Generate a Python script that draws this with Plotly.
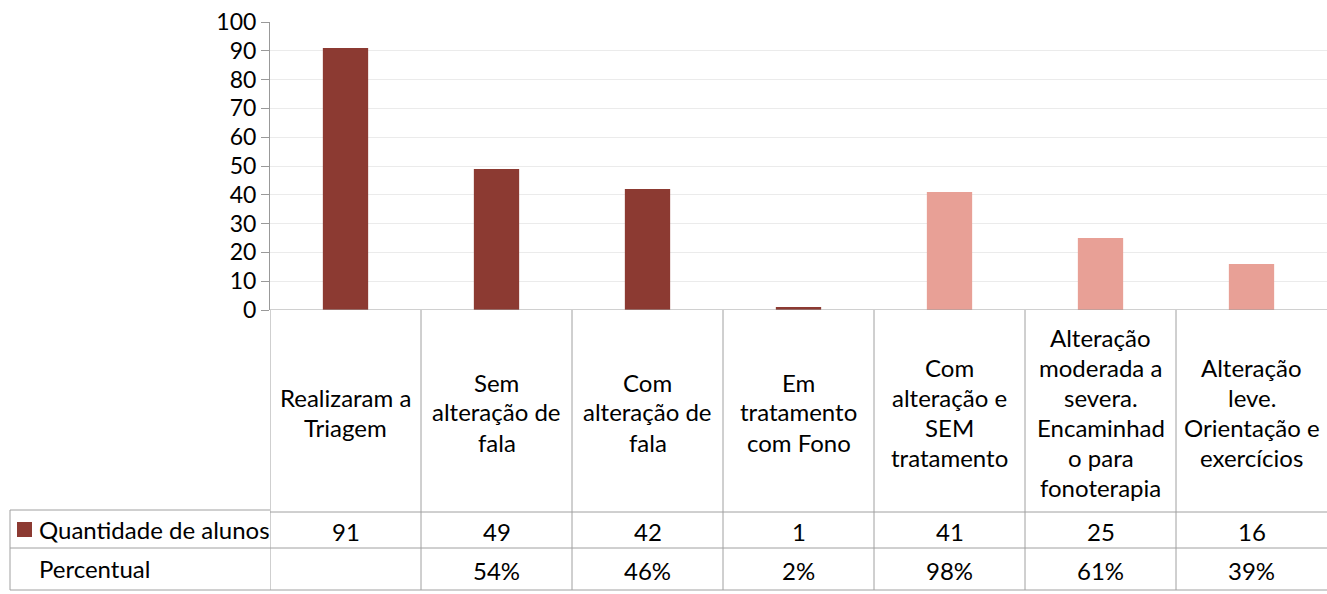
import plotly.graph_objects as go

# ---- data ----
categories = [
    "Realizaram a<br>Triagem",
    "Sem<br>alteração de<br>fala",
    "Com<br>alteração de<br>fala",
    "Em<br>tratamento<br>com Fono",
    "Com<br>alteração e<br>SEM<br>tratamento",
    "Alteração<br>moderada a<br>severa.<br>Encaminhad<br>o para<br>fonoterapia",
    "Alteração<br>leve.<br>Orientação e<br>exercícios",
]
quantidade = [91, 49, 42, 1, 41, 25, 16]
percentual = ["", "54%", "46%", "2%", "98%", "61%", "39%"]
series_name = "Quantidade de alunos"
row2_name = "Percentual"
y_ticks = list(range(0, 101, 10))

DARK = "#8C3A32"
LIGHT = "#E8A096"
bar_colors = [DARK, DARK, DARK, DARK, LIGHT, LIGHT, LIGHT]

W, H = 1327, 594
FONT = "Lato"
FS_TICK = 23
FS = 24


def py(px):
    return 1 - px / H


def pxx(px):
    return px / W


n = len(categories)
idx = list(range(n))

fig = go.Figure()
fig.add_trace(go.Bar(x=idx, y=quantidade, marker=dict(color=bar_colors, line=dict(width=0)),
                     width=0.3, name=series_name, showlegend=False))

fig.update_layout(
    width=W, height=H, autosize=False,
    margin=dict(l=0, r=0, t=0, b=0, pad=0),
    paper_bgcolor="white", plot_bgcolor="white",
    font=dict(family=FONT, color="black", size=FS),
    xaxis=dict(domain=[pxx(270), 1.0], range=[-0.5, n - 0.5], showticklabels=False,
               showgrid=False, zeroline=False, showline=False, ticks="", automargin=False),
    yaxis=dict(domain=[py(310), py(22)], range=[0, 100], tickvals=y_ticks,
               ticks="outside", ticklen=8, tickcolor="#999999", tickwidth=1,
               showline=True, linecolor="#999999", linewidth=1,
               gridcolor="#ebebeb", gridwidth=1, zeroline=False, automargin=False,
               tickfont=dict(size=FS_TICK, family=FONT, color="black")),
)

line = dict(color="#a0a0a0", width=1)
shapes = []
shapes.append(dict(type="line", xref="x", yref="y", x0=-0.5, x1=n - 0.5, y0=0, y1=0, line=line))
for k in range(n):
    shapes.append(dict(type="line", xref="x", yref="paper", x0=k - 0.5, x1=k - 0.5,
                       y0=py(590), y1=py(310), line=line))
for yy in (512, 548, 590):
    shapes.append(dict(type="line", xref="x", yref="paper", x0=-0.5, x1=n - 0.5,
                       y0=py(yy), y1=py(yy), line=line))
for yy in (510, 548, 590):
    shapes.append(dict(type="line", xref="paper", yref="paper", x0=pxx(10), x1=pxx(270),
                       y0=py(yy), y1=py(yy), line=line))
shapes.append(dict(type="line", xref="paper", yref="paper", x0=pxx(10), x1=pxx(10),
                   y0=py(590), y1=py(510), line=line))
shapes.append(dict(type="rect", xref="paper", yref="paper", x0=pxx(17), x1=pxx(32),
                   y0=py(537), y1=py(522), fillcolor=DARK, line=dict(width=0)))
fig.update_layout(shapes=shapes)

ann = []
LINE_H = 30
HEAD_C = 412
for k, lab in enumerate(categories):
    parts = lab.split("<br>")
    m = len(parts)
    for j, p in enumerate(parts):
        yc = HEAD_C + (j - (m - 1) / 2) * LINE_H
        ann.append(dict(x=k, xref="x", y=py(yc), yref="paper", text=p, showarrow=False,
                        xanchor="center", yanchor="middle", font=dict(size=FS, family=FONT)))
    ann.append(dict(x=k, xref="x", y=py(531), yref="paper", text=str(quantidade[k]), showarrow=False,
                    xanchor="center", yanchor="middle", font=dict(size=FS, family=FONT)))
    if percentual[k]:
        ann.append(dict(x=k, xref="x", y=py(570), yref="paper", text=percentual[k], showarrow=False,
                        xanchor="center", yanchor="middle", font=dict(size=FS, family=FONT)))
ann.append(dict(x=pxx(37), xref="paper", y=py(529), yref="paper", text=series_name, showarrow=False,
                xanchor="left", yanchor="middle", font=dict(size=FS, family=FONT)))
ann.append(dict(x=pxx(37), xref="paper", y=py(568), yref="paper", text=row2_name, showarrow=False,
                xanchor="left", yanchor="middle", font=dict(size=FS, family=FONT)))
fig.update_layout(annotations=ann)

fig.write_html("out.html",
               config={"displayModeBar": False},
               post_script="document.body.style.margin='0';document.body.style.overflow='hidden';")
